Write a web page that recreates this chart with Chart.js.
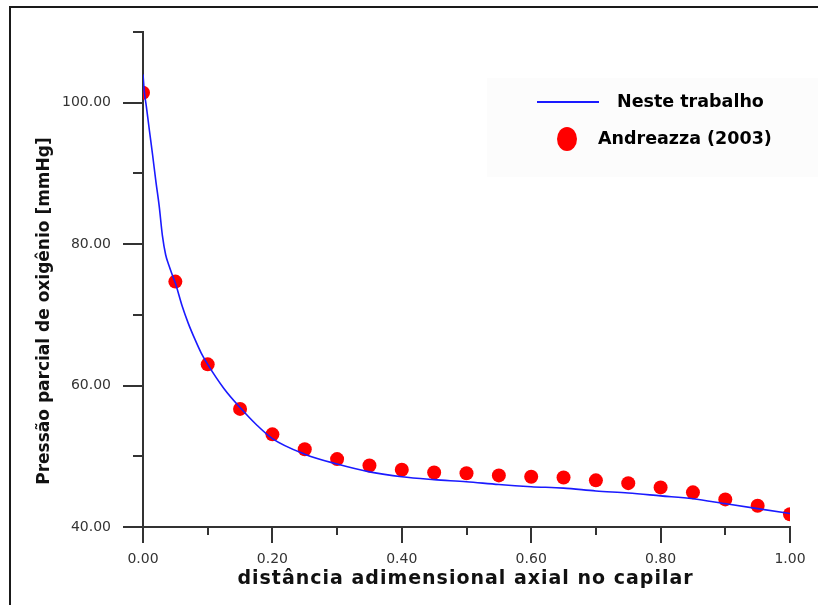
<!DOCTYPE html>
<html>
<head>
<meta charset="utf-8">
<script src="https://cdn.jsdelivr.net/npm/chart.js@4.4.1/dist/chart.umd.min.js"></script>
<style>
html,body{margin:0;padding:0;background:#fff;}
#wrap{position:relative;width:818px;height:605px;}
canvas{display:block;}
</style>
</head>
<body>
<div id="wrap"><canvas id="c" width="818" height="605"></canvas></div>
<script>
// ---- data ----
const obsX = [0.00, 0.05, 0.10, 0.15, 0.20, 0.25, 0.30, 0.35, 0.40, 0.45, 0.50, 0.55, 0.60, 0.65, 0.70, 0.75, 0.80, 0.85, 0.90, 0.95, 1.00];
const obsY = [101.4, 74.7, 63.0, 56.7, 53.1, 51.0, 49.6, 48.7, 48.1, 47.7, 47.6, 47.3, 47.1, 47.0, 46.6, 46.2, 45.6, 44.9, 43.9, 43.0, 41.8];

const curveX = [0, 0.002, 0.005, 0.01, 0.015, 0.02, 0.025, 0.03, 0.035, 0.04, 0.045, 0.05, 0.06, 0.07, 0.08, 0.09, 0.10, 0.125, 0.15, 0.175, 0.20, 0.25, 0.30, 0.35, 0.40, 0.45, 0.50, 0.55, 0.60, 0.65, 0.70, 0.75, 0.80, 0.85, 0.90, 0.95, 1.00];
const curveY = [104.0, 101.6, 99.6, 96.0, 92.5, 88.8, 85.4, 81.2, 78.5, 77.0, 75.7, 74.5, 71.4, 68.8, 66.6, 64.6, 63.0, 59.6, 56.9, 54.5, 52.5, 50.3, 48.9, 47.8, 47.1, 46.7, 46.4, 46.0, 45.7, 45.5, 45.1, 44.8, 44.4, 44.0, 43.3, 42.6, 41.9];

const xTickLabels = ['0.00', '0.20', '0.40', '0.60', '0.80', '1.00'];
const yTickLabels = ['40.00', '60.00', '80.00', '100.00'];

const seriesNames = ['Neste trabalho', 'Andreazza (2003)'];
const xTitle = 'distância adimensional axial no capilar';
const yTitle = 'Pressão parcial de oxigênio [mmHg]';

const lineColor = '#1a1aff';
const pointColor = '#ff0000';
const axisColor = '#333333';

const curveData = curveX.map((x, i) => ({x: x, y: curveY[i]}));
const obsData = obsX.map((x, i) => ({x: x, y: obsY[i]}));

function xLabel(v) {
  const s = v.toFixed(2);
  return xTickLabels.includes(s) ? s : '';
}
function yLabel(v) {
  const s = v.toFixed(2);
  return yTickLabels.includes(s) ? s : '';
}

const decor = {
  id: 'decor',
  beforeDraw(chart) {
    const ctx = chart.ctx;
    ctx.save();
    ctx.fillStyle = '#ffffff';
    ctx.fillRect(0, 0, chart.width, chart.height);
    // outer frame (top and left edges visible)
    ctx.strokeStyle = '#1a1a1a';
    ctx.lineWidth = 2;
    ctx.beginPath();
    ctx.moveTo(10, chart.height + 5);
    ctx.lineTo(10, 7);
    ctx.lineTo(chart.width + 5, 7);
    ctx.stroke();
    // faint legend background
    ctx.fillStyle = '#fcfcfc';
    ctx.fillRect(487, 78, 331, 99);
    ctx.restore();
  },
  afterDraw(chart) {
    const ctx = chart.ctx;
    const xs = chart.scales.x, ys = chart.scales.y;
    ctx.save();
    ctx.strokeStyle = axisColor;
    ctx.lineWidth = 2;
    ctx.lineCap = 'butt';
    // x ticks
    xs.ticks.forEach((t, i) => {
      const px = Math.round(xs.getPixelForTick(i));
      const major = xLabel(t.value) !== '';
      const len = major ? 16 : 8;
      ctx.beginPath();
      ctx.moveTo(px, xs.top);
      ctx.lineTo(px, xs.top + len);
      ctx.stroke();
    });
    // y ticks
    ys.ticks.forEach((t, i) => {
      const py = Math.round(ys.getPixelForTick(i));
      const major = yLabel(t.value) !== '';
      const len = major ? 20 : 10;
      ctx.beginPath();
      ctx.moveTo(ys.right, py);
      ctx.lineTo(ys.right - len, py);
      ctx.stroke();
    });
    ctx.restore();

    // x title
    ctx.save();
    ctx.fillStyle = '#111';
    ctx.font = 'bold 19px "DejaVu Sans"';
    ctx.textBaseline = 'middle';
    ctx.textAlign = 'left';
    if ('letterSpacing' in ctx) ctx.letterSpacing = '1px';
    const w = ctx.measureText(xTitle).width;
    const cx = (xs.left + xs.right) / 2 - 1;
    ctx.fillText(xTitle, cx - w / 2, 579);
    ctx.restore();

    // y title
    ctx.save();
    ctx.fillStyle = '#111';
    ctx.font = 'bold 17px "DejaVu Sans"';
    ctx.textAlign = 'center';
    ctx.textBaseline = 'middle';
    ctx.translate(45, 311);
    ctx.rotate(-Math.PI / 2);
    ctx.fillText(yTitle, 0, 0);
    ctx.restore();

    // legend
    ctx.save();
    const ds0 = chart.data.datasets[0], ds1 = chart.data.datasets[1];
    ctx.strokeStyle = ds0.borderColor;
    ctx.lineWidth = 2;
    ctx.beginPath();
    ctx.moveTo(537, 102);
    ctx.lineTo(599, 102);
    ctx.stroke();
    ctx.fillStyle = ds1.backgroundColor;
    ctx.beginPath();
    ctx.ellipse(567, 139, 10, 12, 0, 0, Math.PI * 2);
    ctx.fill();
    ctx.fillStyle = '#000';
    ctx.font = 'bold 17.5px "DejaVu Sans"';
    ctx.textAlign = 'left';
    ctx.textBaseline = 'middle';
    ctx.fillText(ds0.label, 617, 102);
    ctx.fillText(ds1.label, 598, 139);
    ctx.restore();
  }
};

new Chart(document.getElementById('c'), {
  type: 'scatter',
  data: {
    datasets: [
      {
        label: seriesNames[0],
        data: curveData,
        showLine: true,
        borderColor: lineColor,
        backgroundColor: lineColor,
        borderWidth: 1.6,
        pointRadius: 0,
        cubicInterpolationMode: 'monotone',
        order: 0
      },
      {
        label: seriesNames[1],
        data: obsData,
        showLine: false,
        backgroundColor: pointColor,
        borderColor: pointColor,
        borderWidth: 0,
        pointRadius: 7,
        pointStyle: 'circle',
        order: 1
      }
    ]
  },
  options: {
    responsive: false,
    animation: false,
    devicePixelRatio: 1,
    layout: {padding: {left: 0, top: 32, right: 28, bottom: 0}},
    plugins: {legend: {display: false}, tooltip: {enabled: false}},
    scales: {
      x: {
        type: 'linear',
        min: 0, max: 1,
        afterFit(s) { s.height = 78; s.paddingLeft = 0; s.paddingRight = 0; },
        grid: {display: false, drawTicks: false},
        border: {display: true, color: axisColor, width: 2},
        ticks: {
          stepSize: 0.1,
          autoSkip: false,
          maxRotation: 0,
          padding: 24,
          color: '#333',
          font: {family: '"DejaVu Sans"', size: 14},
          callback: (v) => xLabel(v)
        },
        title: {display: false}
      },
      y: {
        type: 'linear',
        min: 40, max: 110,
        afterFit(s) { s.width = 143; s.paddingTop = 0; s.paddingBottom = 0; },
        grid: {display: false, drawTicks: false},
        border: {display: true, color: axisColor, width: 2},
        ticks: {
          stepSize: 10,
          autoSkip: false,
          padding: 32,
          color: '#333',
          font: {family: '"DejaVu Sans"', size: 14},
          callback: (v) => yLabel(v)
        }
      }
    }
  },
  plugins: [decor]
});
</script>
</body>
</html>
